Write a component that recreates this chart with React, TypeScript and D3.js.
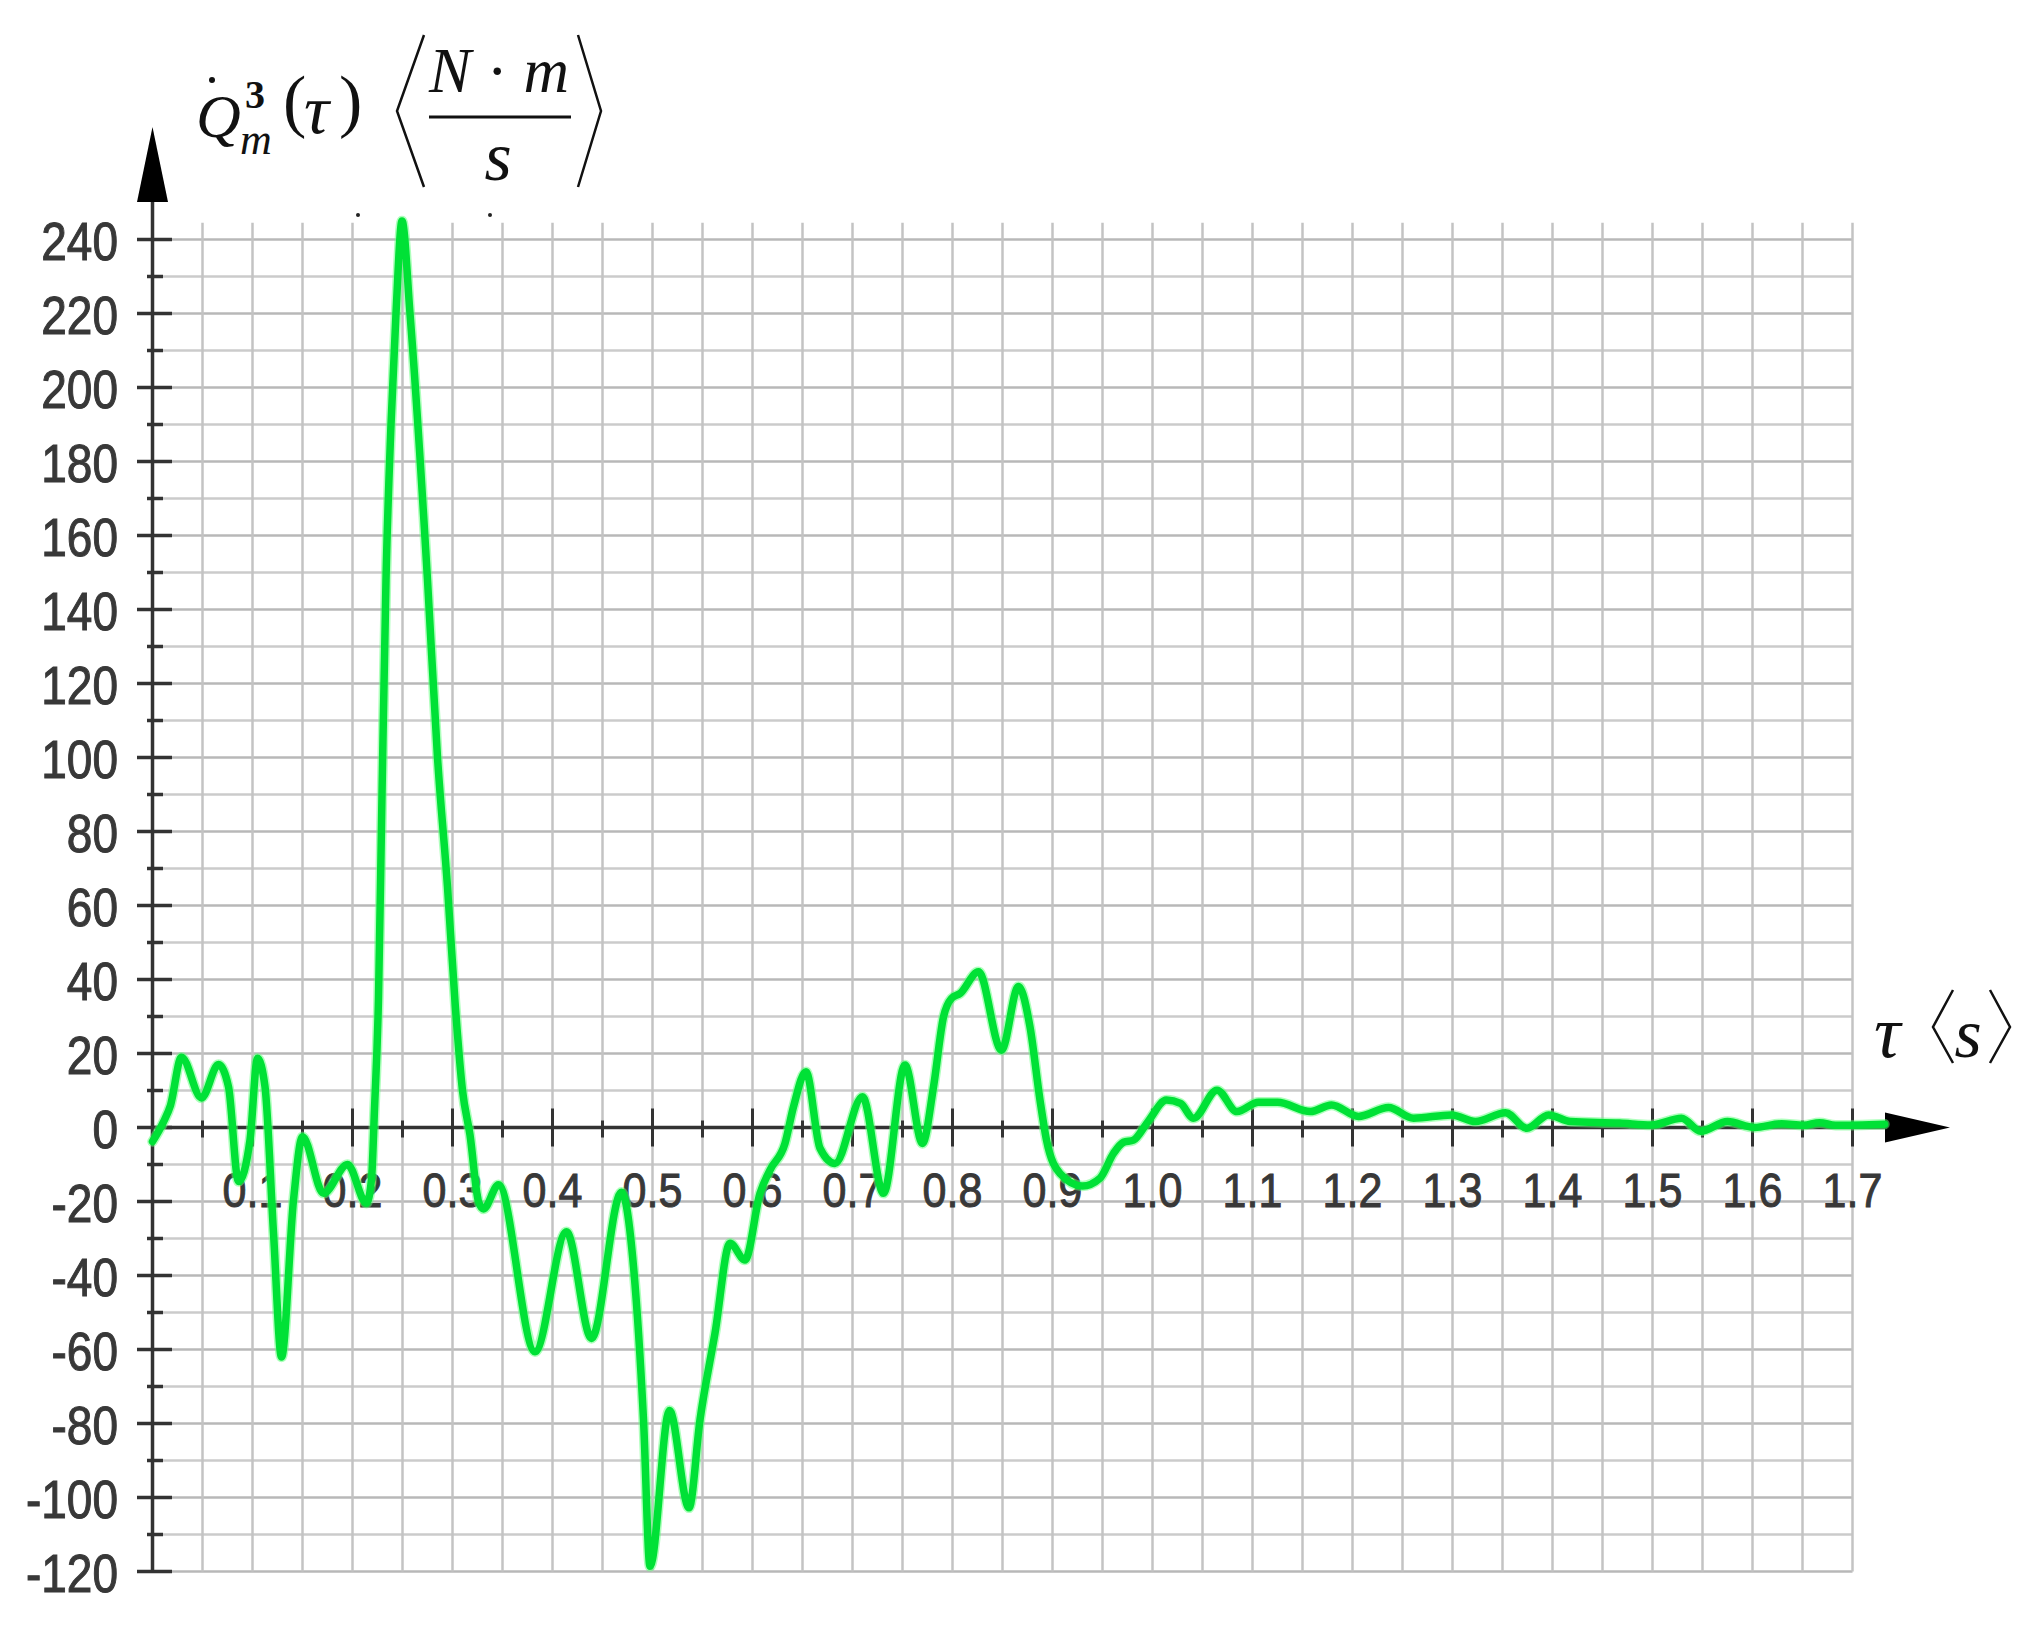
import React from "react";
import * as d3 from "d3";

const timeS: number[] = [
  0.0, 0.011, 0.018, 0.029, 0.049, 0.066, 0.076, 0.086, 0.0975, 0.105, 0.1125, 0.121, 0.129, 0.141, 0.15,
  0.171, 0.195, 0.214, 0.219, 0.222, 0.226, 0.2295, 0.2335, 0.2385, 0.2435, 0.2495, 0.2575, 0.275, 0.285,
  0.295, 0.3025, 0.31, 0.3175, 0.326, 0.331, 0.346, 0.3825, 0.414, 0.439, 0.469, 0.481, 0.491, 0.4975,
  0.517, 0.5365, 0.5475, 0.5625, 0.5775, 0.5925, 0.6075, 0.6175, 0.6325, 0.641, 0.6535, 0.6675, 0.6825,
  0.71, 0.731, 0.7525, 0.77, 0.781, 0.791, 0.799, 0.8075, 0.826, 0.849, 0.866, 0.8775, 0.8875, 0.894,
  0.9075, 0.93, 0.9475, 0.961, 0.971, 0.981, 0.995, 1.014, 1.028, 1.041, 1.0645, 1.0845, 1.106, 1.125,
  1.158, 1.179, 1.206, 1.236, 1.261, 1.299, 1.323, 1.353, 1.3745, 1.396, 1.418, 1.467, 1.499, 1.529,
  1.548, 1.575, 1.602, 1.629, 1.651, 1.667, 1.683, 1.732,
];

const torque: number[] = [
  -3.8, 1.5, 6, 19, 8, 17, 11, -14.6, -3.4, 18.7, 11, -28.5, -62, -19.6, -2.5,
  -17.8, -10, -20.5, -14, 5, 35, 90, 148, 190, 220, 245, 220, 148, 100,
  65, 34, 10, -2, -20, -22, -15.5, -60.6, -28.2, -57, -17.5, -37.6, -79, -118.6,
  -76.5, -102.8, -79, -55.6, -31.3, -35.8, -17.8, -11.5, -4.3, 5.6, 15.1, -5.6, -9.7,
  8.3, -17.8, 16.9, -4.3, 11, 29.9, 34.9, 36.2, 42.1, 20.9, 38.1, 27.2, 7.4, -3.4,
  -12.4, -15.8, -13.7, -7, -4, -3.4, 1.4, 7.4, 6.5, 2.5, 10.1, 4.3, 6.8, 6.8,
  4.3, 6.1, 3, 5.4, 2.5, 3.4, 1.6, 4, -0.2, 3.4, 1.6, 1.2, 0.7, 2.5,
  -1, 1.6, 0, 1, 0.6, 1.3, 0.6, 0.9,
];

const yMajorTicks: number[] = [-120, -100, -80, -60, -40, -20, 0, 20, 40, 60, 80, 100, 120, 140, 160, 180, 200, 220, 240];
const xMajorTicks: number[] = [0.1, 0.2, 0.3, 0.4, 0.5, 0.6, 0.7, 0.8, 0.9, 1.0, 1.1, 1.2, 1.3, 1.4, 1.5, 1.6, 1.7];
const xTickLabels: string[] = ["0.1", "0.2", "0.3", "0.4", "0.5", "0.6", "0.7", "0.8", "0.9", "1.0", "1.1", "1.2", "1.3", "1.4", "1.5", "1.6", "1.7"];

const W = 2038;
const H = 1631;

export default function App() {
  const x = d3.scaleLinear().domain([0, 1.7]).range([152.5, 1852.5]);
  const y = d3.scaleLinear().domain([-120, 240]).range([1571.5, 239.5]);

  const data = timeS.map((t, i) => [t, torque[i]] as [number, number]);
  const line = d3
    .line<[number, number]>()
    .x((d) => x(d[0]))
    .y((d) => y(d[1]))
    .curve(d3.curveMonotoneX);

  const hGrid = d3.range(-120, 241, 10);
  const vGrid = d3.range(1, 35).map((k) => k * 0.05);
  const yMinor = d3.range(-110, 240, 20);
  const xMinor = d3.range(0, 17).map((k) => 0.05 + k * 0.1);

  const axisColor = "#333";
  const labelColor = "#383838";
  const sans = "'Liberation Sans', Arial, sans-serif";
  const serif = "'Liberation Serif', 'DejaVu Serif', 'Times New Roman', serif";
  const gridTop = y(244.5);

  return (
    <svg
      width={W}
      height={H}
      viewBox={`0 0 ${W} ${H}`}
      style={{ position: "absolute", left: 0, top: 0, background: "#fff" }}
    >
      <rect x={0} y={0} width={W} height={H} fill="#fff" />
      {/* grid */}
      <g>
        {hGrid.map((v) => (
          <line
            key={"h" + v}
            x1={x(0)}
            x2={x(1.7)}
            y1={y(v)}
            y2={y(v)}
            stroke={v % 20 === 0 ? "#b8b8b8" : "#cbcbcb"}
            strokeWidth={2.5}
          />
        ))}
        {vGrid.map((t) => (
          <line
            key={"v" + t}
            x1={x(t)}
            x2={x(t)}
            y1={gridTop}
            y2={y(-120)}
            stroke={"#c3c3c3"}
            strokeWidth={2.5}
          />
        ))}
      </g>

      {/* y axis */}
      <line x1={x(0)} x2={x(0)} y1={y(-120)} y2={200} stroke={axisColor} strokeWidth={3.5} />
      <path d={`M ${x(0)} 127 L ${x(0) + 15.5} 202 L ${x(0) - 15.5} 202 Z`} fill="#000" />
      {yMajorTicks.map((v) => (
        <line key={"ym" + v} x1={137} x2={172} y1={y(v)} y2={y(v)} stroke={axisColor} strokeWidth={3.5} />
      ))}
      {yMinor.map((v) => (
        <line key={"yn" + v} x1={147} x2={163} y1={y(v)} y2={y(v)} stroke={axisColor} strokeWidth={3.5} />
      ))}
      {yMajorTicks.map((v) => (
        <text
          key={"yl" + v}
          transform={`translate(118, ${y(v) + 2}) scale(1, 1.15)`}
          textAnchor="end"
          dominantBaseline="central"
          fontFamily={sans}
          fontSize={46}
          fill={labelColor}
          stroke={labelColor}
          strokeWidth={0.9}
        >
          {v}
        </text>
      ))}

      {/* x axis */}
      <line x1={x(0)} x2={1890} y1={y(0)} y2={y(0)} stroke={axisColor} strokeWidth={3.5} />
      <path d={`M 1950 ${y(0)} L 1885 ${y(0) - 15} L 1885 ${y(0) + 15} Z`} fill="#000" />
      {xMajorTicks.map((t) => (
        <line key={"xm" + t} x1={x(t)} x2={x(t)} y1={y(0) - 19} y2={y(0) + 19} stroke={axisColor} strokeWidth={3} />
      ))}
      {xMinor.map((t) => (
        <line key={"xn" + t} x1={x(t)} x2={x(t)} y1={y(0) - 7} y2={y(0) + 10} stroke={axisColor} strokeWidth={3} />
      ))}
      {xMajorTicks.map((t, i) => (
        <text
          key={"xl" + t}
          transform={`translate(${x(t)}, 1207) scale(1, 1.13)`}
          textAnchor="middle"
          fontFamily={sans}
          fontSize={43}
          fill={labelColor}
          stroke={labelColor}
          strokeWidth={0.9}
        >
          {xTickLabels[i]}
        </text>
      ))}

      {/* curve */}
      <path
        d={line(data) || ""}
        fill="none"
        stroke="#5dff7a"
        strokeOpacity={0.5}
        strokeWidth={10.5}
        strokeLinejoin="round"
        strokeLinecap="round"
      />
      <path
        d={line(data) || ""}
        fill="none"
        stroke="#00e136"
        strokeWidth={7.5}
        strokeLinejoin="round"
        strokeLinecap="round"
      />

      {/* small artifacts */}
      <circle cx={358} cy={215} r={2} fill="#222" />
      <circle cx={490} cy={215} r={2} fill="#222" />

      {/* y title: Q̇³ₘ(τ) ⟨N·m / s⟩ */}
      <g fill="#111" fontFamily={serif}>
        <text x={196} y={137} fontSize={62} fontStyle="italic">Q</text>
        <circle cx={212} cy={80} r={3} fill="#111" />
        <text x={245} y={108} fontSize={40} fontWeight="bold">3</text>
        <text x={240} y={154} fontSize={44} fontStyle="italic">m</text>
        <text x={283} y={124} fontSize={70}>(</text>
        <text x={304} y={133} fontSize={70} fontStyle="italic">τ</text>
        <text x={339} y={124} fontSize={70}>)</text>
        <path d="M 424 35 L 397 111 L 424 187" fill="none" stroke="#111" strokeWidth={2.5} />
        <text x={429} y={92} fontSize={63} textLength={140} lengthAdjust="spacing">
          <tspan fontStyle="italic">N</tspan>
          <tspan> · </tspan>
          <tspan fontStyle="italic">m</tspan>
        </text>
        <line x1={429} x2={571} y1={117} y2={117} stroke="#111" strokeWidth={3} />
        <text x={498} y={180} fontSize={70} fontStyle="italic" textAnchor="middle">s</text>
        <path d="M 578 35 L 601 111 L 578 187" fill="none" stroke="#111" strokeWidth={2.5} />
      </g>

      {/* x title: τ ⟨s⟩ */}
      <g fill="#111" fontFamily={serif}>
        <text x={1874} y={1057} fontSize={74} fontStyle="italic">τ</text>
        <path d="M 1953 990 L 1933 1027 L 1953 1063" fill="none" stroke="#111" strokeWidth={2.5} />
        <text x={1968} y={1057} fontSize={70} fontStyle="italic" textAnchor="middle">s</text>
        <path d="M 1990 990 L 2010 1027 L 1990 1063" fill="none" stroke="#111" strokeWidth={2.5} />
      </g>
    </svg>
  );
}
